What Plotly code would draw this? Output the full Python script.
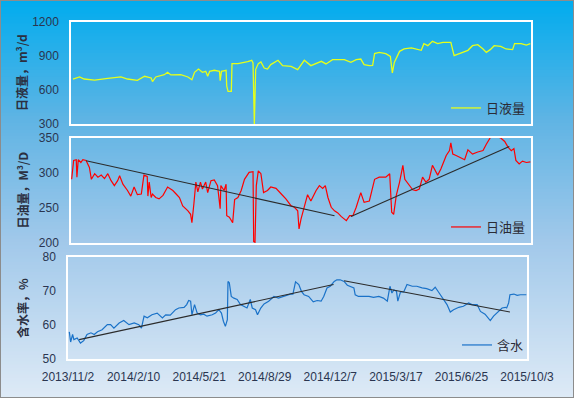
import pandas as pd
import plotly.graph_objects as go

BASE = "2013-11-02"

# 日液量 (m3/d): day offset from 2013-11-02 and value
liq_day = [3, 13, 20, 36, 56, 76, 86, 101, 112, 122, 124, 129, 142, 147, 152, 167, 178, 184, 188, 194,
           200, 205, 208, 211, 218, 226, 227, 229, 236, 237, 239, 244, 245, 254, 269, 275, 277, 278, 279,
           281, 285, 289, 294, 299, 304, 315, 322, 335, 345, 355, 365, 381, 388, 398, 416, 426, 434, 441,
           446, 454, 459, 462, 469, 479, 486, 489, 492, 500, 507, 518, 525, 533, 537, 543, 550, 558, 566,
           578, 583, 594, 604, 611, 619, 627, 632, 638, 644, 654, 662, 672, 675, 685, 693, 699]
liq_val = [697, 715, 697, 688, 703, 715, 697, 685, 721, 706, 674, 715, 735, 756, 733, 735, 715, 691, 756, 785,
           756, 765, 721, 765, 774, 765, 683, 765, 774, 633, 588, 588, 833, 833, 850, 862, 838, 309, 300,
           780, 833, 847, 794, 785, 824, 862, 815, 809, 780, 862, 815, 853, 830, 868, 868, 844, 868, 873,
           824, 815, 818, 921, 932, 921, 897, 750, 844, 941, 962, 971, 962, 950, 1009, 991, 1029, 1009, 1020,
           1020, 903, 926, 950, 991, 1000, 962, 932, 956, 991, 985, 962, 956, 1009, 1009, 997, 1009]

# 日油量 (M3/D)
oil_day = [1, 4, 8, 9, 11, 15, 18, 23, 28, 31, 36, 41, 46, 51, 56, 61, 66, 71, 74, 79, 86, 91, 96, 101, 107,
           111, 116, 117, 119, 122, 124, 129, 134, 140, 147, 155, 160, 165, 170, 178, 182, 184, 187, 190, 193,
           197, 200, 205, 208, 213, 218, 223, 227, 228, 233, 236, 237, 241, 246, 249, 254, 259, 264, 271, 277,
           278, 280, 282, 285, 289, 293, 299, 304, 312, 320, 327, 335, 340, 345, 347, 350, 355, 360, 365, 373,
           378, 383, 387, 391, 396, 401, 406, 411, 419, 424, 429, 434, 441, 446, 454, 462, 469, 479, 485, 488,
           491, 495, 500, 505, 508, 515, 520, 525, 530, 535, 540, 545, 550, 558, 563, 571, 576, 578, 581, 586,
           594, 599, 604, 611, 619, 627, 632, 637, 639, 647, 654, 660, 665, 670, 674, 677, 682, 687, 693, 699]
oil_val = [291, 318, 319, 294, 319, 315, 319, 318, 308, 291, 299, 294, 297, 292, 299, 289, 282, 289, 296, 284,
           275, 267, 280, 269, 270, 297, 295, 267, 287, 265, 270, 265, 263, 268, 280, 275, 270, 265, 253, 246,
           241, 229, 256, 287, 273, 287, 277, 287, 272, 289, 290, 282, 249, 282, 275, 284, 239, 237, 229, 262,
           265, 275, 291, 301, 302, 202, 201, 282, 303, 299, 272, 275, 280, 278, 270, 263, 253, 251, 246, 220,
           234, 251, 269, 260, 275, 282, 278, 282, 265, 251, 246, 243, 238, 232, 239, 239, 251, 272, 258, 260,
           291, 294, 294, 299, 244, 241, 268, 287, 311, 291, 282, 276, 275, 277, 294, 287, 291, 311, 297, 306,
           325, 332, 343, 327, 325, 322, 319, 333, 327, 330, 332, 341, 349, 352, 352, 350, 345, 337, 332, 335,
           318, 313, 317, 315, 316]
oil_trend_day = [23, 401, 426, 667]
oil_trend_val = [317.6, 239, 238, 338]

# 含水 (%)
wc_day = [2, 4, 7, 9, 14, 19, 24, 29, 35, 40, 45, 52, 60, 65, 70, 78, 85, 93, 101, 108, 112, 116, 121, 128,
          136, 144, 149, 156, 164, 169, 177, 181, 184, 187, 189, 193, 197, 202, 207, 212, 220, 225, 230, 234,
          237, 240, 243, 244, 246, 249, 253, 258, 263, 268, 273, 278, 281, 286, 289, 294, 299, 306, 314, 321,
          329, 339, 343, 347, 352, 356, 360, 367, 374, 380, 386, 390, 395, 400, 406, 410, 415, 421, 426, 431,
          436, 438, 443, 451, 459, 466, 474, 481, 487, 491, 494, 497, 501, 503, 507, 512, 517, 525, 532, 540,
          547, 555, 560, 565, 573, 578, 583, 588, 596, 603, 611, 616, 624, 629, 636, 644, 649, 654, 662, 667,
          669, 672, 674, 680, 685, 690, 699]
wc_val = [58.0, 55.0, 57.2, 55.7, 56.2, 54.7, 55.4, 57.2, 57.7, 57.2, 58.0, 58.6, 60.1, 60.1, 59.1, 60.6,
          61.3, 60.1, 60.6, 60.1, 59.1, 62.6, 62.1, 63.0, 63.5, 62.1, 63.0, 62.9, 64.5, 65.0, 65.2, 66.0,
          67.2, 67.0, 63.0, 66.0, 63.5, 63.0, 63.2, 62.6, 63.0, 63.5, 64.5, 63.5, 61.1, 59.6, 61.6, 72.8,
          72.4, 68.4, 67.9, 67.5, 66.0, 65.5, 65.0, 67.5, 65.0, 64.5, 63.0, 65.0, 66.2, 67.0, 68.4, 67.9,
          68.4, 69.1, 69.1, 72.7, 71.9, 69.9, 68.9, 68.4, 66.8, 67.2, 67.0, 68.4, 70.9, 71.4, 72.8, 73.3,
          73.3, 72.8, 71.7, 71.4, 70.9, 68.9, 68.4, 68.4, 68.4, 68.1, 68.4, 67.9, 67.0, 71.4, 69.4, 70.3,
          69.9, 67.0, 69.7, 69.7, 71.9, 71.4, 71.4, 70.9, 70.7, 70.1, 71.1, 69.7, 67.5, 66.0, 63.8, 64.5,
          65.2, 65.5, 66.5, 66.0, 66.0, 64.0, 63.2, 61.3, 62.6, 63.5, 65.0, 65.2, 65.0, 66.5, 68.9, 69.1,
          68.7, 68.9, 68.9]
wc_trend_day = [17, 405, 421, 674]
wc_trend_val = [55.7, 71.9, 73.0, 63.8]

tick_labels = ["2013/11/2", "2014/2/10", "2014/5/21", "2014/8/29", "2014/12/7",
               "2015/3/17", "2015/6/25", "2015/10/3"]

W, H = 574, 398


def to_dates(days):
    return pd.Timestamp(BASE) + pd.to_timedelta(days, unit="D")


def split(days, vals):
    # break trend lists into two segments
    xs = list(to_dates(days[:2])) + [None] + list(to_dates(days[2:]))
    ys = vals[:2] + [None] + vals[2:]
    return xs, ys


tickvals = [pd.Timestamp(BASE) + pd.Timedelta(days=100 * i) for i in range(len(tick_labels))]
xrange = [tickvals[0], tickvals[-1]]

fig = go.Figure()

fig.add_trace(go.Scatter(x=to_dates(liq_day), y=liq_val, mode="lines", name="日液量",
                         line=dict(color="#e5ff1a", width=1.3), xaxis="x", yaxis="y", legend="legend"))
fig.add_trace(go.Scatter(x=to_dates(oil_day), y=oil_val, mode="lines", name="日油量",
                         line=dict(color="#ff0000", width=1.2), xaxis="x2", yaxis="y2", legend="legend2"))
tx, ty = split(oil_trend_day, oil_trend_val)
fig.add_trace(go.Scatter(x=tx, y=ty, mode="lines", showlegend=False, connectgaps=False,
                         line=dict(color="#2b2b2b", width=1.1), xaxis="x2", yaxis="y2"))
fig.add_trace(go.Scatter(x=to_dates(wc_day), y=wc_val, mode="lines", name="含水",
                         line=dict(color="#1a72c8", width=1.2), xaxis="x3", yaxis="y3", legend="legend3"))
tx, ty = split(wc_trend_day, wc_trend_val)
fig.add_trace(go.Scatter(x=tx, y=ty, mode="lines", showlegend=False, connectgaps=False,
                         line=dict(color="#2b2b2b", width=1.1), xaxis="x3", yaxis="y3"))

tick_font = dict(family="Liberation Sans, Arial, sans-serif", size=12, color="#2a3550")
cjk = "Noto Sans CJK SC, sans-serif"

dom12 = [71 / W, 531 / W]
dom3 = [68 / W, 527 / W]


def ydom(top, bottom):
    return [1 - bottom / H, 1 - top / H]


axis_common = dict(showgrid=False, zeroline=False, showline=True, mirror=True,
                   linecolor="white", linewidth=1.5, automargin=False)

xbase = dict(type="date", range=xrange, tickvals=tickvals, ticktext=tick_labels, **axis_common)
fig.update_layout(
    xaxis=dict(domain=dom12, anchor="y", showticklabels=False, ticks="", **xbase),
    xaxis2=dict(domain=dom12, anchor="y2", showticklabels=False, ticks="", **xbase),
    xaxis3=dict(domain=dom3, anchor="y3", showticklabels=True, ticks="", tickfont=tick_font,
                ticklabelstandoff=6, **xbase),
    yaxis=dict(domain=ydom(22, 124), anchor="x", range=[300, 1200], tickvals=[300, 600, 900, 1200],
               tickfont=tick_font, ticks="", ticklabelstandoff=8, **axis_common),
    yaxis2=dict(domain=ydom(138, 243), anchor="x2", range=[200, 350], tickvals=[200, 250, 300, 350],
                tickfont=tick_font, ticks="", ticklabelstandoff=8, **axis_common),
    yaxis3=dict(domain=ydom(257, 359), anchor="x3", range=[50, 80], tickvals=[50, 60, 70, 80],
                tickfont=tick_font, ticks="", ticklabelstandoff=8, **axis_common),
)

leg = dict(bgcolor="rgba(0,0,0,0)", font=dict(family=cjk, size=13, color="#2b2b35"),
           xanchor="right", yanchor="bottom", itemwidth=30)
fig.update_layout(
    legend=dict(x=531 / W, y=1 - 123 / H, **leg),
    legend2=dict(x=531 / W, y=1 - 242 / H, **leg),
    legend3=dict(x=529 / W, y=1 - 360 / H, **leg),
)

# background gradient (vertical)
stops = [(0.0, (0, 172, 238)), (0.3, (95, 180, 228)), (0.6, (160, 200, 234)), (1.0, (222, 234, 246))]


def color_at(t):
    for (t0, c0), (t1, c1) in zip(stops[:-1], stops[1:]):
        if t0 <= t <= t1:
            f = (t - t0) / (t1 - t0)
            return "rgb(%d,%d,%d)" % tuple(round(a + (b - a) * f) for a, b in zip(c0, c1))
    return "rgb(%d,%d,%d)" % stops[-1][1]


shapes = []
N = 120
for i in range(N):
    t = (i + 0.5) / N
    shapes.append(dict(type="rect", xref="paper", yref="paper", x0=0, x1=1,
                       y0=1 - (i + 1) / N - 0.002, y1=1 - i / N, fillcolor=color_at(t),
                       line=dict(width=0), layer="below"))
shapes.append(dict(type="rect", xref="paper", yref="paper", x0=0, x1=1, y0=0, y1=1,
                   line=dict(color="#8c8c8c", width=2), layer="above"))

annotations = []
for text, top, bottom in [("日液量，m³/d", 22, 124), ("日油量，M³/D", 138, 243), ("含水率，%", 257, 359)]:
    annotations.append(dict(text="<b>%s</b>" % text, xref="paper", yref="paper", x=22 / W,
                            y=1 - (top + bottom) / 2 / H, textangle=-90, showarrow=False,
                            font=dict(family=cjk, size=12, color="#2b2f40"),
                            xanchor="center", yanchor="middle"))

fig.update_layout(
    width=W, height=H, margin=dict(l=0, r=0, t=0, b=0, autoexpand=False),
    paper_bgcolor="#dde9f6", plot_bgcolor="rgba(0,0,0,0)",
    shapes=shapes, annotations=annotations, showlegend=True,
)

fig.write_html("out.html", config={"displayModeBar": False},
               post_script="document.body.style.margin='0';document.body.style.overflow='hidden';")
